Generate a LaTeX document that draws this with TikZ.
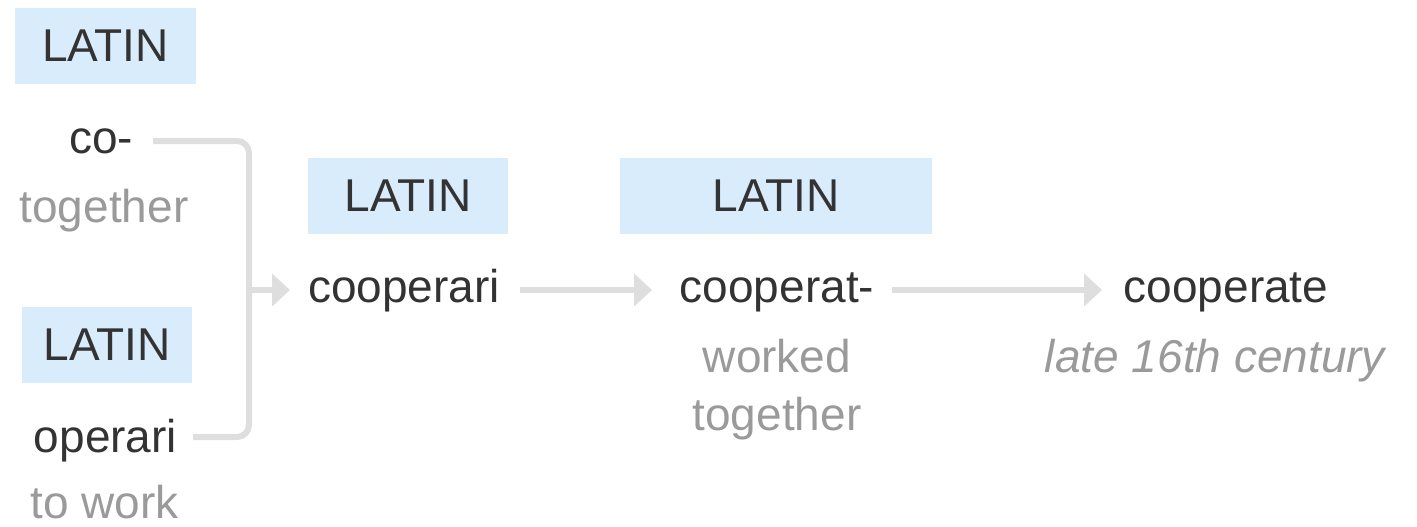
\documentclass[tikz,border=0pt]{standalone}
\usepackage{fontspec}
\setmainfont{Liberation Sans}
\usetikzlibrary{arrows.meta}
\definecolor{boxblue}{HTML}{D8ECFC}
\definecolor{wordc}{HTML}{333333}
\definecolor{glossc}{HTML}{9A9A9A}
\definecolor{linec}{HTML}{DEDEDE}
\tikzset{
  every node/.style={inner sep=0pt, font=\fontsize{46}{55}\selectfont},
  latinbox/.style={fill=boxblue, text=wordc, minimum height=76pt},
  word/.style={anchor=base, text=wordc},
  gloss/.style={anchor=base, text=glossc},
  conn/.style={draw=linec, line width=6pt},
  arr/.style={conn, -{Triangle[length=18pt,width=32pt]}},
}
\begin{document}
\begin{tikzpicture}[x=1pt,y=-1pt]
\useasboundingbox (0,0) rectangle (1417,527);
% left column
\node[latinbox, minimum width=181pt] (l1) at (105.5,46) {LATIN};
\node[word] (co) at (101,153) {co-};
\node[gloss] (g1) at (104,222) {together};
\node[latinbox, minimum width=170pt] (l4) at (107,344.5) {LATIN};
\node[word] (op) at (105.5,452) {operari};
\node[gloss] (g4) at (104.5,518) {to work};
% middle
\node[latinbox, minimum width=200pt] (l2) at (408,196) {LATIN};
\node[word] (cr) at (404,302) {cooperari};
\node[latinbox, minimum width=312pt] (l3) at (776,196) {LATIN};
\node[word] (ct) at (777,302) {cooperat-};
\node[gloss] (g3a) at (777,372) {worked};
\node[gloss] (g3b) at (777,430) {together};
% right
\node[word] (ce) at (1226,302) {cooperate};
\node[gloss, font=\fontsize{46}{55}\selectfont\itshape] (g5) at (1215,372) {late 16th century};
% connectors
\coordinate (b1) at (153,141);
\coordinate (b2) at (193,437);
\coordinate (bj) at (249,290);
\draw[conn, rounded corners=12pt] (b1) -| (bj) |- (b2);
\draw[arr] (bj) -- (290,290) coordinate (t1);
\draw[arr] (520,290) coordinate (s2) -- (652,290) coordinate (t2);
\draw[arr] (892,290) coordinate (s3) -- (1102,290) coordinate (t3);
\end{tikzpicture}
\end{document}
